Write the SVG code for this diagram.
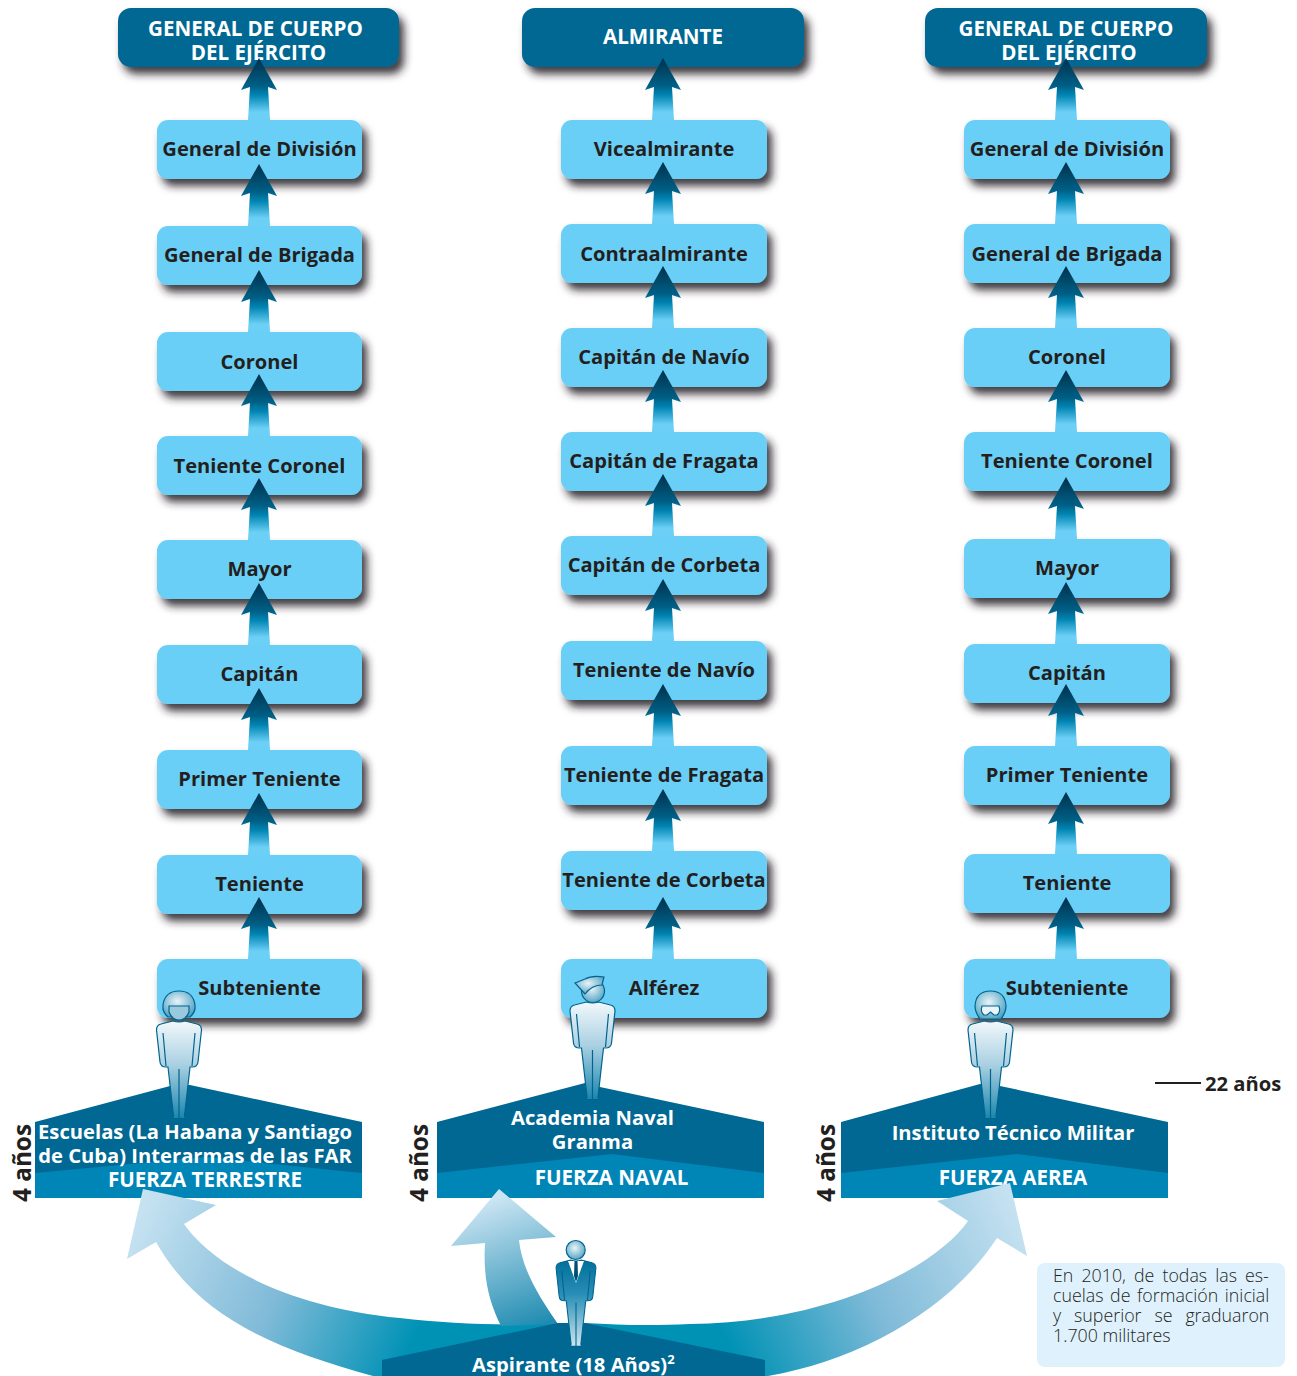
<svg xmlns="http://www.w3.org/2000/svg" width="1297" height="1376" viewBox="0 0 1297 1376">
<style>
text{font-family:"Open Sans","Noto Sans","Liberation Sans",sans-serif;font-weight:700}
.top{fill:#006893;filter:url(#sh)}
.box{fill:#6bcff6;filter:url(#sh)}
.t{font-size:20.1px;fill:#231f20;text-anchor:middle}
.w{font-size:20.2px;fill:#fff;text-anchor:middle}
.c{font-size:20.6px;fill:#fff;text-anchor:middle}
.a{font-size:24.3px;fill:#231f20}
.d{fill:#006893}.l{fill:#0085b7}
.n{font-size:17.8px;font-weight:300;fill:#231f20}
.fig{stroke:#00648f;stroke-width:1.2;fill:url(#fg)}
.ln{stroke:#00648f;stroke-width:1.2;fill:none}
.hd{fill:url(#hg);stroke:#00648f;stroke-width:1.2}
</style>
<defs>
<filter id="sh" x="-15%" y="-30%" width="135%" height="180%"><feDropShadow dx="5" dy="7" stdDeviation="4.5" flood-color="#231f20" flood-opacity="0.88"/></filter>
<linearGradient id="ag" x1="0" y1="0" x2="0" y2="1"><stop offset="0" stop-color="#00304c"/><stop offset=".45" stop-color="#005f85"/><stop offset=".6" stop-color="#0085b3"/><stop offset=".87" stop-color="#6bcff6"/></linearGradient>
<linearGradient id="fg" x1="0" y1="0" x2="0" y2="1"><stop offset="0" stop-color="#f2f8fb"/><stop offset=".45" stop-color="#a9d0e2"/><stop offset="1" stop-color="#1a86ae"/></linearGradient>
<linearGradient id="fd" x1="0" y1="0" x2="0" y2="1"><stop offset="0" stop-color="#006f9b"/><stop offset=".4" stop-color="#2a8fb6"/><stop offset="1" stop-color="#cfe6f0"/></linearGradient>
<radialGradient id="hg" cx=".45" cy=".4" r=".7"><stop offset="0" stop-color="#eaf4f8"/><stop offset="1" stop-color="#3d9abf"/></radialGradient>
<linearGradient id="bl" gradientUnits="userSpaceOnUse" x1="130" y1="1205" x2="415" y2="1335"><stop offset="0" stop-color="#cbe5f3"/><stop offset=".55" stop-color="#7fbad8"/><stop offset="1" stop-color="#0092b5"/></linearGradient>
<linearGradient id="br" gradientUnits="userSpaceOnUse" x1="1025" y1="1195" x2="725" y2="1335"><stop offset="0" stop-color="#cbe5f3"/><stop offset=".55" stop-color="#7fbad8"/><stop offset="1" stop-color="#0092b5"/></linearGradient>
<linearGradient id="bm" gradientUnits="userSpaceOnUse" x1="490" y1="1200" x2="535" y2="1328"><stop offset="0" stop-color="#cbe5f3"/><stop offset="1" stop-color="#1f8bb1"/></linearGradient>
<path id="ar" d="M0,0L18,32L9,29L11,62L-11,62L-9,29L-18,32Z" fill="url(#ag)"/>
<path id="sil" d="M-6,-1L-18,2Q-22.5,3-22.5,8L-19,40Q-18.500,45-13,45L-11,45L-5.500,94L-6.500,96.500L6.500,96.500L5.500,94L11,45L13,45Q18.500,45 19,40L22.500,8Q22.500,3 18,2L6,-1Q0,1-6,-1Z"/>
<path id="lines" d="M-16,11L-13,44M16,11L13,44M0,47V96"/>
</defs>

<g id="col1">
<g id="n1-top"><rect class="top" x="118" y="8" width="281" height="59" rx="13"/><text class="c" x="255.500" y="36">GENERAL DE CUERPO</text><text class="c" x="258.500" y="60">DEL EJÉRCITO</text></g>
<g id="n1-1"><rect class="box" x="157" y="120" width="205" height="59" rx="11"/><text class="t" x="259.500" y="156">General de División</text></g>
<g id="n1-2"><rect class="box" x="157" y="226" width="205" height="59" rx="11"/><text class="t" x="259.500" y="262">General de Brigada</text></g>
<g id="n1-3"><rect class="box" x="157" y="332" width="205" height="59" rx="11"/><text class="t" x="259.500" y="369">Coronel</text></g>
<g id="n1-4"><rect class="box" x="157" y="436" width="205" height="59" rx="11"/><text class="t" x="259.500" y="473">Teniente Coronel</text></g>
<g id="n1-5"><rect class="box" x="157" y="540" width="205" height="59" rx="11"/><text class="t" x="259.500" y="576">Mayor</text></g>
<g id="n1-6"><rect class="box" x="157" y="645" width="205" height="59" rx="11"/><text class="t" x="259.500" y="681">Capitán</text></g>
<g id="n1-7"><rect class="box" x="157" y="750" width="205" height="59" rx="11"/><text class="t" x="259.500" y="786">Primer Teniente</text></g>
<g id="n1-8"><rect class="box" x="157" y="855" width="205" height="59" rx="11"/><text class="t" x="259.500" y="891">Teniente</text></g>
<g id="n1-9"><rect class="box" x="157" y="959" width="205" height="59" rx="11"/><text class="t" x="259.500" y="995">Subteniente</text></g>
</g>

<g id="col2">
<g id="n2-top"><rect class="top" x="522" y="8" width="282" height="59" rx="13"/><text class="c" x="663" y="44">ALMIRANTE</text></g>
<g id="n2-1"><rect class="box" x="561" y="120" width="206" height="59" rx="11"/><text class="t" x="664" y="156">Vicealmirante</text></g>
<g id="n2-2"><rect class="box" x="561" y="224" width="206" height="59" rx="11"/><text class="t" x="664" y="261">Contraalmirante</text></g>
<g id="n2-3"><rect class="box" x="561" y="328" width="206" height="59" rx="11"/><text class="t" x="664" y="364">Capitán de Navío</text></g>
<g id="n2-4"><rect class="box" x="561" y="432" width="206" height="59" rx="11"/><text class="t" x="664" y="468">Capitán de Fragata</text></g>
<g id="n2-5"><rect class="box" x="561" y="536" width="206" height="59" rx="11"/><text class="t" x="664" y="572">Capitán de Corbeta</text></g>
<g id="n2-6"><rect class="box" x="561" y="641" width="206" height="59" rx="11"/><text class="t" x="664" y="677">Teniente de Navío</text></g>
<g id="n2-7"><rect class="box" x="561" y="746" width="206" height="59" rx="11"/><text class="t" x="664" y="782">Teniente de Fragata</text></g>
<g id="n2-8"><rect class="box" x="561" y="851" width="206" height="59" rx="11"/><text class="t" x="664" y="887">Teniente de Corbeta</text></g>
<g id="n2-9"><rect class="box" x="561" y="959" width="206" height="59" rx="11"/><text class="t" x="664" y="995">Alférez</text></g>
</g>

<g id="col3">
<g id="n3-top"><rect class="top" x="925" y="8" width="282" height="59" rx="13"/><text class="c" x="1066" y="36">GENERAL DE CUERPO</text><text class="c" x="1069" y="60">DEL EJÉRCITO</text></g>
<g id="n3-1"><rect class="box" x="964" y="120" width="206" height="59" rx="11"/><text class="t" x="1067" y="156">General de División</text></g>
<g id="n3-2"><rect class="box" x="964" y="224" width="206" height="59" rx="11"/><text class="t" x="1067" y="261">General de Brigada</text></g>
<g id="n3-3"><rect class="box" x="964" y="328" width="206" height="59" rx="11"/><text class="t" x="1067" y="364">Coronel</text></g>
<g id="n3-4"><rect class="box" x="964" y="432" width="206" height="59" rx="11"/><text class="t" x="1067" y="468">Teniente Coronel</text></g>
<g id="n3-5"><rect class="box" x="964" y="539" width="206" height="59" rx="11"/><text class="t" x="1067" y="575">Mayor</text></g>
<g id="n3-6"><rect class="box" x="964" y="644" width="206" height="59" rx="11"/><text class="t" x="1067" y="680">Capitán</text></g>
<g id="n3-7"><rect class="box" x="964" y="746" width="206" height="59" rx="11"/><text class="t" x="1067" y="782">Primer Teniente</text></g>
<g id="n3-8"><rect class="box" x="964" y="854" width="206" height="59" rx="11"/><text class="t" x="1067" y="890">Teniente</text></g>
<g id="n3-9"><rect class="box" x="964" y="959" width="206" height="59" rx="11"/><text class="t" x="1067" y="995">Subteniente</text></g>
</g>

<g id="connectors">
<use href="#ar" x="259" y="58"/><use href="#ar" x="259" y="164"/><use href="#ar" x="259" y="270"/><use href="#ar" x="259" y="374"/><use href="#ar" x="259" y="478"/><use href="#ar" x="259" y="583"/><use href="#ar" x="259" y="688"/><use href="#ar" x="259" y="793"/><use href="#ar" x="259" y="897"/>
<use href="#ar" x="663" y="58"/><use href="#ar" x="663" y="162"/><use href="#ar" x="663" y="266"/><use href="#ar" x="663" y="370"/><use href="#ar" x="663" y="474"/><use href="#ar" x="663" y="579"/><use href="#ar" x="663" y="684"/><use href="#ar" x="663" y="789"/><use href="#ar" x="663" y="897"/>
<use href="#ar" x="1066" y="58"/><use href="#ar" x="1066" y="162"/><use href="#ar" x="1066" y="266"/><use href="#ar" x="1066" y="370"/><use href="#ar" x="1066" y="477"/><use href="#ar" x="1066" y="582"/><use href="#ar" x="1066" y="684"/><use href="#ar" x="1066" y="792"/><use href="#ar" x="1066" y="897"/>
</g>

<g id="school1">
<path class="d" d="M35,1122L170,1086L190,1085L362,1122V1198H35Z"/>
<path class="l" d="M35,1173L205,1157L362,1173V1198H35Z"/>
<text class="w" x="195" y="1139">Escuelas (La Habana y Santiago</text>
<text class="w" x="195" y="1163">de Cuba) Interarmas de las FAR</text>
<text class="c" x="205" y="1187">FUERZA TERRESTRE</text>
<text class="a" transform="translate(31 1202) rotate(-90)">4 años</text>
</g>
<g id="school2">
<path class="d" d="M437,1122L585,1083L600,1087L764,1122V1198H437Z"/>
<path class="l" d="M437,1173L612,1154L764,1173V1198H437Z"/>
<text class="w" x="592.500" y="1125">Academia Naval</text>
<text class="w" x="592.500" y="1149">Granma</text>
<text class="c" x="611.500" y="1185">FUERZA NAVAL</text>
<text class="a" transform="translate(428 1202) rotate(-90)">4 años</text>
</g>
<g id="school3">
<path class="d" d="M841,1122L980,1084L1000,1086L1168,1122V1198H841Z"/>
<path class="l" d="M841,1173L1017,1154L1168,1173V1198H841Z"/>
<text class="w" x="1013" y="1140">Instituto Técnico Militar</text>
<text class="c" x="1013" y="1185">FUERZA AEREA</text>
<text class="a" transform="translate(835 1202) rotate(-90)">4 años</text>
</g>

<g id="big-arrows">
<path fill="url(#bl)" d="M143,1189L216,1205L184,1224C215,1268 290,1307 400,1318C450,1324 510,1326 560,1323V1376H373C280,1350 200,1320 156,1242L127,1259Z"/>
<path fill="url(#br)" d="M1010,1183L937,1201L968,1221C935,1268 830,1322 690,1324C650,1326 620,1325 585,1323V1376H768C860,1360 950,1310 997,1238L1027,1256Z"/>
<path fill="url(#bm)" d="M499,1189L556,1237L519,1240C522,1270 540,1298 558,1324L501,1326C488,1300 483,1275 485,1243L451,1246Z"/>
</g>

<g id="figure1">
<g transform="translate(179 1022)"><use href="#sil" class="fig"/><use href="#lines" class="ln"/></g>
<path class="hd" d="M168,1017Q162,1012 163,1005Q165,991 179,991Q193,991 195,1005Q196,1012 190,1017Z"/>
<path d="M169,1006H189V1012Q186,1020 179,1020Q172,1020 169,1012Z" fill="#9ac8dc" stroke="#00648f" stroke-width="1.200"/>
</g>
<g id="figure2">
<g transform="translate(592.500 1003)"><use href="#sil" class="fig"/><use href="#lines" class="ln"/></g>
<circle class="hd" cx="593" cy="991" r="11.500"/>
<path class="hd" d="M575,983L585,979Q592,975 604,977L602,985Q592,985 585,994Z"/>
</g>
<g id="figure3">
<g transform="translate(990.500 1022)"><use href="#sil" class="fig"/><use href="#lines" class="ln"/></g>
<path class="hd" d="M980,1019Q975,1012 975,1006Q976,991 990.500,991Q1005,991 1006,1006Q1006,1012 1001,1019Z"/>
<path d="M982,1006H999Q1001,1012 997,1015H994L990.500,1012L987,1015H984Q980,1012 982,1006Z" fill="#eaf4f8" stroke="#00648f" stroke-width="1.200"/>
</g>

<g id="aspirante">
<path class="d" d="M382,1360L558,1323L585,1323L765,1360V1376H382Z"/>
<text class="w" x="472" y="1372" style="text-anchor:start">Aspirante (18 Años)<tspan font-size="13" dy="-8">2</tspan></text>
<g transform="translate(576 1261) scale(.885)"><use href="#sil" fill="url(#fd)" stroke="#00648f" stroke-width="1.200"/><use href="#lines" class="ln"/></g>
<path d="M568,1261L584,1261L576,1283Z" fill="#fff"/>
<path d="M574.500,1261H577.500L578,1276L576,1282L574,1276Z" fill="#004f72"/>
<circle class="hd" cx="575.700" cy="1250" r="9.500"/>
</g>

<g id="age22">
<path d="M1155,1083H1201" stroke="#231f20" stroke-width="2"/>
<text x="1205" y="1091" font-size="20.200" fill="#231f20">22 años</text>
</g>

<g id="note">
<rect x="1037" y="1263" width="248" height="104" rx="8" fill="#dff1fc"/>
<text class="n" x="1053" y="1282" word-spacing="3.500">En 2010, de todas las es-</text>
<text class="n" x="1053" y="1302" word-spacing="2">cuelas de formación inicial</text>
<text class="n" x="1053" y="1322" word-spacing="8.300">y superior se graduaron</text>
<text class="n" x="1053" y="1342">1.700 militares</text>
</g>
</svg>
